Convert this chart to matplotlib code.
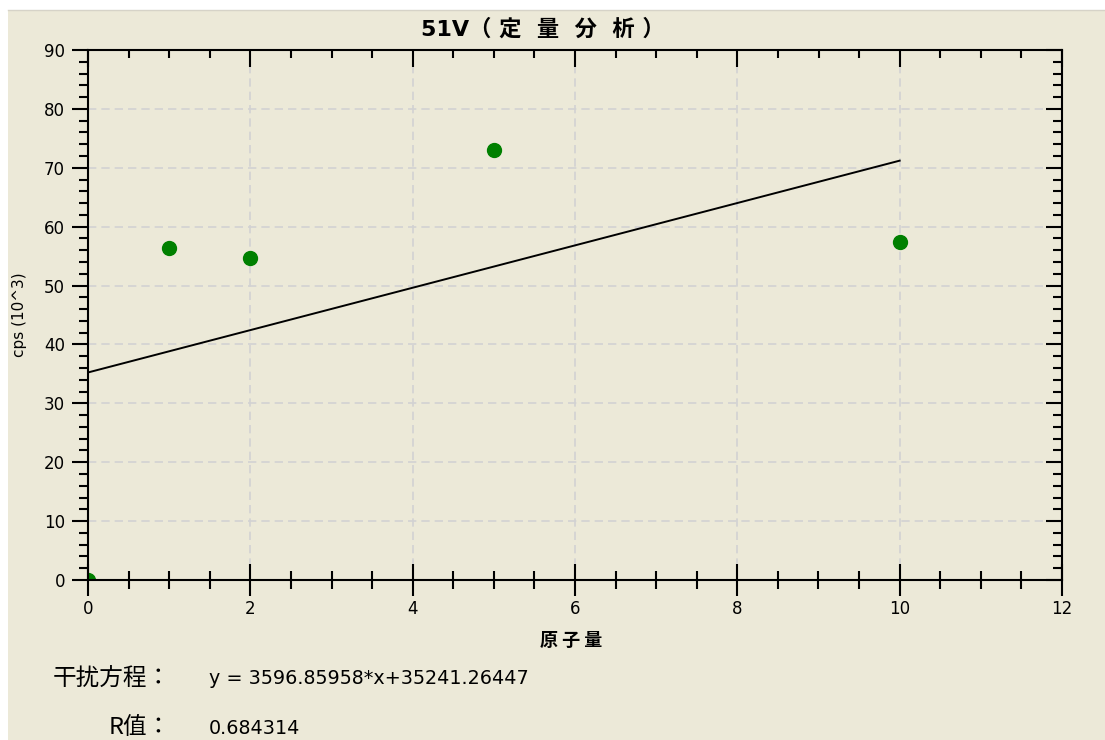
import matplotlib
matplotlib.use("Agg")
import matplotlib.pyplot as plt
from matplotlib.patches import Rectangle
from matplotlib.lines import Line2D
from matplotlib.ticker import MultipleLocator
import numpy as np

# ---- data ----
conc = [0, 1, 2, 5, 10]                 # 原子量
cps_k = [0.0, 56.4, 54.7, 73.0, 57.4]   # cps (10^3)
slope = 3596.85958
intercept = 35241.26447
r_value = 0.684314
x_ticks = [0, 2, 4, 6, 8, 10, 12]
y_ticks = [0, 10, 20, 30, 40, 50, 60, 70, 80, 90]

title_text = "51V（ 定  量  分  析 ）"
xlabel_text = "原 子 量"
ylabel_text = "cps (10^3)"
eq_label = "干扰方程："
r_label = "R值："

BG = "#ECE9D8"
W, H = 1105, 740
fig = plt.figure(figsize=(W / 100, H / 100), dpi=100, facecolor="white")

# beige panel
fig.patches.append(Rectangle((8 / W, 0), 1 - 8 / W, 1 - 11 / H, transform=fig.transFigure,
                             facecolor=BG, edgecolor="none", zorder=-10))
fig.lines.append(Line2D([8 / W, 1], [1 - 10 / H, 1 - 10 / H], transform=fig.transFigure,
                        color="#d6d3c8", lw=1.0, zorder=-9))

L, R, T, B = 88, 1062, 50, 580
ax = fig.add_axes([L / W, 1 - B / H, (R - L) / W, (B - T) / H])
ax.set_facecolor(BG)
ax.set_xlim(0, 12)
ax.set_ylim(0, 90)

ax.grid(True, which="major", color="#d2d2d2", linestyle=(0, (5, 3)), lw=1.2, zorder=0)
ax.set_axisbelow(True)

# fit line
fit_x = np.array([min(conc), max(conc)], dtype=float)
fit_y = (slope * fit_x + intercept) / 1000.0
ax.plot(fit_x, fit_y, color="black", lw=1.4, zorder=3)

# points
ax.plot(conc, cps_k, linestyle="none", marker="o", ms=10, color="#008000",
        markeredgecolor="#008000", zorder=2, clip_on=True)

# ticks (bottom: in-out, left: out)
ax.set_xticks(x_ticks)
ax.set_yticks(y_ticks)
ax.xaxis.set_minor_locator(MultipleLocator(0.5))
ax.yaxis.set_minor_locator(MultipleLocator(2))
ax.tick_params(axis="x", which="major", direction="inout", length=23, width=1.5, pad=3,
               labelsize=12, top=False)
ax.tick_params(axis="x", which="minor", direction="inout", length=12.5, width=1.5, top=False)
ax.tick_params(axis="y", which="major", direction="out", length=11.5, width=1.5, pad=5,
               labelsize=12, right=False)
ax.tick_params(axis="y", which="minor", direction="out", length=6.5, width=1.5, right=False)
for s in ax.spines.values():
    s.set_linewidth(1.5)
    s.set_color("black")

# top ticks (in)
axt = ax.twiny()
axt.set_xlim(ax.get_xlim())
axt.set_xticks(x_ticks)
axt.xaxis.set_minor_locator(MultipleLocator(0.5))
axt.tick_params(axis="x", which="major", direction="in", length=12, width=1.5,
                top=True, bottom=False, labeltop=False, labelbottom=False)
axt.tick_params(axis="x", which="minor", direction="in", length=6, width=1.5,
                top=True, bottom=False)
axt.patch.set_visible(False)
for s in axt.spines.values():
    s.set_visible(False)

# right ticks (in)
axr = ax.twinx()
axr.set_ylim(ax.get_ylim())
axr.set_yticks(y_ticks)
axr.yaxis.set_minor_locator(MultipleLocator(2))
axr.tick_params(axis="y", which="major", direction="in", length=11.5, width=1.5,
                right=True, left=False, labelright=False, labelleft=False)
axr.tick_params(axis="y", which="minor", direction="in", length=6.5, width=1.5,
                right=True, left=False)
axr.patch.set_visible(False)
for s in axr.spines.values():
    s.set_visible(False)

# labels
cjk = ["Noto Sans CJK JP", "DejaVu Sans"]
lat = ["DejaVu Sans", "Noto Sans CJK JP"]
ax.set_xlabel(xlabel_text, family=cjk, fontsize=13, fontweight="bold", va="center")
ax.xaxis.set_label_coords(0.496, -60 / (B - T))
ax.set_ylabel(ylabel_text, family=lat, fontsize=11, va="center")
ax.yaxis.set_label_coords((20 - L) / (R - L), 0.5)

fig.text(543 / W, 1 - 29 / H, title_text, family=lat, fontsize=16, fontweight="bold",
         ha="center", va="center")

eq_text = "y = {:.5f}*x+{:.5f}".format(slope, intercept)
fig.text(171 / W, 1 - 678 / H, eq_label, family=cjk, fontsize=17, ha="right", va="center")
fig.text(209 / W, 1 - 678 / H, eq_text, family=lat, fontsize=13.8, ha="left", va="center")
fig.text(171 / W, 1 - 728 / H, r_label, family=cjk, fontsize=17, ha="right", va="center")
fig.text(209 / W, 1 - 728 / H, "{:.6f}".format(r_value), family=lat, fontsize=13.8,
         ha="left", va="center")

fig.savefig("out.png", dpi=100, facecolor="white")
